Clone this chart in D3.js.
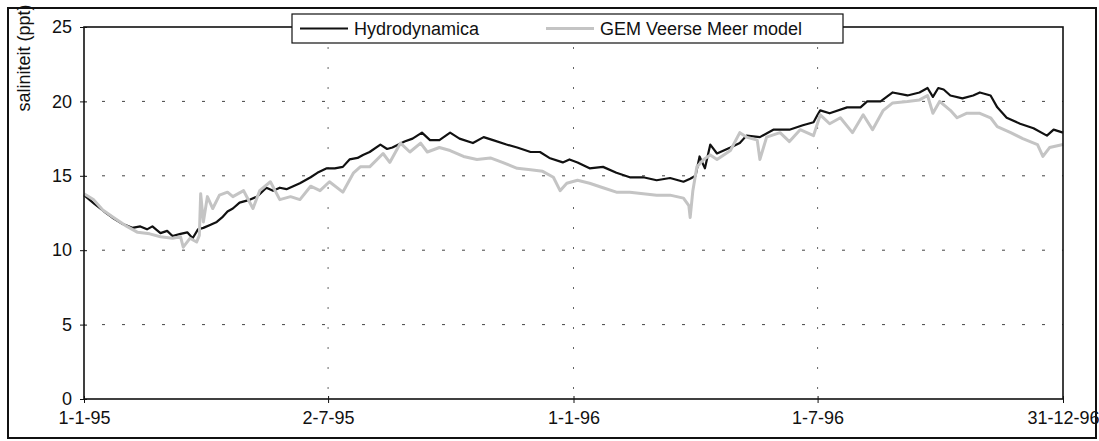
<!DOCTYPE html>
<head>
  <meta charset="utf-8">
  <title>saliniteit</title>
  <style>
    body { margin: 0; background: #fff; }
    text { font-family: "Liberation Sans", Arial, sans-serif; fill: #111; }
  </style>
</head>
<body>
<script src="https://d3js.org/d3.v7.min.js"></script>
<script>

// days since 1-1-95 and salinity (ppt)
var hydroDays = [0, 8, 15, 21, 28, 36, 42, 47, 51, 57, 62, 66, 72, 77, 79, 81, 85, 89, 94, 99,
  103, 107, 111, 116, 124, 129, 136, 141, 146, 151, 156, 161, 169, 174, 181, 187, 193, 198, 204, 208,
  213, 221, 226, 230, 239, 245, 252, 258, 265, 273, 280, 290, 298, 305, 315, 323, 333, 340, 347, 357,
  362, 368, 377, 387, 397, 407, 417, 427, 437, 447, 452, 456, 459, 463, 467, 472, 482, 489, 494, 504,
  514, 526, 536, 544, 547, 549, 556, 569, 579, 584, 594, 603, 614, 623, 629, 633, 637, 641, 646, 655,
  663, 668, 676, 681, 688, 698, 708, 718, 723, 730];
var hydroSal = [13.7, 13.1, 12.6, 12.2, 11.8, 11.5, 11.6, 11.4, 11.6, 11.15, 11.3, 10.95, 11.1, 11.2, 11.0, 10.8, 11.4, 11.5, 11.7, 11.9,
  12.2, 12.6, 12.8, 13.2, 13.4, 13.6, 14.2, 14.0, 14.2, 14.1, 14.3, 14.5, 14.9, 15.2, 15.5, 15.5, 15.6, 16.1, 16.2, 16.4,
  16.6, 17.1, 16.8, 16.9, 17.3, 17.5, 17.9, 17.4, 17.4, 17.9, 17.5, 17.2, 17.6, 17.4, 17.1, 16.9, 16.6, 16.6, 16.2, 15.9,
  16.1, 15.9, 15.5, 15.6, 15.2, 14.9, 14.9, 14.7, 14.85, 14.6, 14.8, 15.0, 16.3, 15.5, 17.1, 16.5, 16.9, 17.2, 17.7, 17.6,
  18.1, 18.1, 18.4, 18.6, 19.1, 19.4, 19.2, 19.6, 19.6, 20.0, 20.0, 20.6, 20.4, 20.6, 20.9, 20.3, 20.9, 20.8, 20.4, 20.2,
  20.4, 20.6, 20.4, 19.6, 18.9, 18.5, 18.2, 17.7, 18.1, 17.9];

var gemDays = [0, 7, 14, 22, 32, 40, 49, 57, 66, 72, 74, 79, 84, 86, 87, 89, 92, 96, 101, 107,
  111, 119, 126, 131, 139, 146, 154, 161, 169, 176, 183, 193, 201, 206, 213, 223, 228, 236, 243, 251,
  256, 265, 273, 283, 293, 303, 312, 323, 333, 342, 350, 355, 360, 368, 377, 387, 397, 407, 417, 427,
  437, 447, 451, 452, 454, 457, 462, 467, 472, 482, 489, 494, 502, 504, 509, 519, 526, 534, 544, 549,
  556, 564, 573, 581, 588, 596, 603, 614, 623, 629, 633, 638, 646, 651, 658, 668, 676, 681, 691, 700,
  711, 715, 720, 730];
var gemSal = [13.8, 13.4, 12.7, 12.2, 11.6, 11.2, 11.1, 10.9, 10.8, 10.9, 10.2, 10.8, 10.55, 11.0, 13.8, 11.9, 13.6, 12.8, 13.7, 13.9,
  13.6, 14.0, 12.8, 14.0, 14.6, 13.4, 13.6, 13.4, 14.3, 14.0, 14.6, 13.9, 15.2, 15.6, 15.6, 16.5, 15.9, 17.2, 16.6, 17.2,
  16.6, 16.9, 16.7, 16.3, 16.1, 16.2, 15.9, 15.5, 15.4, 15.3, 14.9, 14.0, 14.5, 14.7, 14.5, 14.2, 13.9, 13.9, 13.8, 13.7,
  13.7, 13.5, 13.0, 12.2, 14.0, 15.6, 16.1, 16.4, 16.1, 16.7, 17.9, 17.6, 17.4, 16.1, 17.6, 17.9, 17.3, 18.1, 17.7, 19.1,
  18.5, 18.9, 17.9, 19.1, 18.1, 19.4, 19.9, 20.0, 20.1, 20.4, 19.2, 20.0, 19.4, 18.9, 19.2, 19.2, 18.9, 18.3, 17.9, 17.5,
  17.1, 16.3, 16.9, 17.1];

var tickDates = ["1995-01-01", "1995-07-02", "1996-01-01", "1996-07-01", "1996-12-31"];
var yTicks = [0, 5, 10, 15, 20, 25];
var seriesNames = ["Hydrodynamica", "GEM Veerse Meer model"];

var W = 1099, H = 441;
var margin = { top: 27, right: 36, bottom: 42, left: 84 },
    width = W - margin.left - margin.right,
    height = H - margin.top - margin.bottom;

var parseDate = d3.timeParse("%Y-%m-%d"),
    start = parseDate("1995-01-01");

var x = d3.scaleTime()
    .domain([start, parseDate("1996-12-31")])
    .range([0, width]);

var y = d3.scaleLinear().domain([0, 25]).range([height, 0]);

function toPoints(days, vals) {
  return days.map(function(d, i) {
    return { date: d3.timeDay.offset(start, d), v: vals[i] };
  });
}
var hydro = toPoints(hydroDays, hydroSal),
    gem = toPoints(gemDays, gemSal);

var line = d3.line()
    .x(function(d) { return x(d.date); })
    .y(function(d) { return y(d.v); });

var root = d3.select("body").append("svg")
    .attr("width", W)
    .attr("height", H);

// outer frame
root.append("rect")
    .attr("x", 8).attr("y", 8)
    .attr("width", 1088).attr("height", 430)
    .attr("fill", "#fff")
    .attr("stroke", "#111")
    .attr("stroke-width", 2);

var svg = root.append("g")
    .attr("transform", "translate(" + margin.left + "," + margin.top + ")");

// gridlines
svg.append("g").selectAll("line")
    .data(yTicks.filter(function(t) { return t > 0 && t < 25; }))
    .enter().append("line")
    .attr("x1", 0).attr("x2", width)
    .attr("y1", function(d) { return y(d); })
    .attr("y2", function(d) { return y(d); })
    .attr("stroke", "#444")
    .attr("stroke-width", 1)
    .attr("stroke-dasharray", "3,17")
    .attr("stroke-dashoffset", -18);

svg.append("g").selectAll("line")
    .data(tickDates.slice(1, 4))
    .enter().append("line")
    .attr("x1", function(d) { return x(parseDate(d)); })
    .attr("x2", function(d) { return x(parseDate(d)); })
    .attr("y1", 0).attr("y2", height)
    .attr("stroke", "#666")
    .attr("stroke-width", 1)
    .attr("stroke-dasharray", "2,18");

// series
svg.append("path")
    .datum(hydro)
    .attr("fill", "none")
    .attr("stroke", "#111")
    .attr("stroke-width", 2.2)
    .attr("stroke-linejoin", "round")
    .attr("d", line);

svg.append("path")
    .datum(gem)
    .attr("fill", "none")
    .attr("stroke", "#c4c4c4")
    .attr("stroke-width", 3)
    .attr("stroke-linejoin", "round")
    .attr("d", line);

// plot border
svg.append("rect")
    .attr("width", width).attr("height", height)
    .attr("fill", "none")
    .attr("stroke", "#111")
    .attr("stroke-width", 1.6);

// axes
var yAxis = svg.append("g")
    .call(d3.axisLeft(y).tickValues(yTicks).tickSize(4).tickPadding(8));
yAxis.select(".domain").remove();
yAxis.selectAll(".tick line").attr("x1", 3).attr("stroke", "#111");
yAxis.selectAll("text").style("font-size", "18px").attr("fill", "#111");

var xAxis = svg.append("g")
    .attr("transform", "translate(0," + height + ")")
    .call(d3.axisBottom(x)
      .tickValues(tickDates.map(parseDate))
      .tickFormat(d3.timeFormat("%-d-%-m-%y"))
      .tickSize(4).tickPadding(8));
xAxis.select(".domain").remove();
xAxis.selectAll(".tick line").attr("y1", -3).attr("stroke", "#111");
xAxis.selectAll("text").style("font-size", "18px").attr("fill", "#111");

// y axis title
root.append("text")
    .attr("transform", "translate(30,58) rotate(-90)")
    .style("text-anchor", "middle")
    .style("font-size", "18px")
    .text("saliniteit (ppt)");

// legend
var legend = root.append("g").attr("transform", "translate(292,14)");
legend.append("rect")
    .attr("width", 551).attr("height", 29)
    .attr("fill", "#fff")
    .attr("stroke", "#111")
    .attr("stroke-width", 1.2);

var legendItems = [
  { name: seriesNames[0], color: "#111", w: 2.2, x: 8 },
  { name: seriesNames[1], color: "#c4c4c4", w: 3, x: 254 }
];
legendItems.forEach(function(it) {
  legend.append("line")
    .attr("x1", it.x).attr("x2", it.x + 48)
    .attr("y1", 14.5).attr("y2", 14.5)
    .attr("stroke", it.color)
    .attr("stroke-width", it.w);
  legend.append("text")
    .attr("x", it.x + 54)
    .attr("y", 21)
    .style("font-size", "18px")
    .text(it.name);
});

</script>
</body>
